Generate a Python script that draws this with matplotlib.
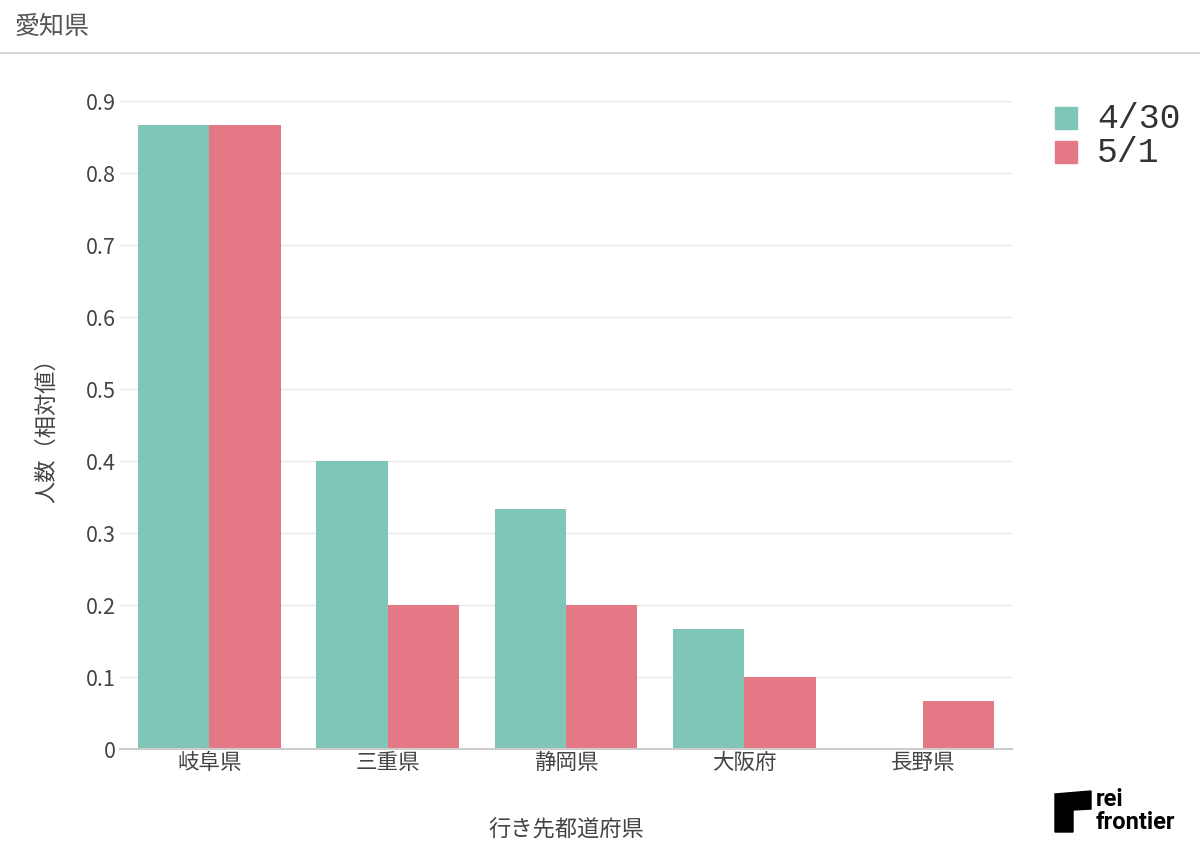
import numpy as np
import matplotlib.pyplot as plt
from matplotlib.patches import Polygon, Rectangle
from matplotlib.lines import Line2D

plt.rcParams['font.family'] = ['Noto Sans CJK JP', 'DejaVu Sans']

prefs = ['岐阜県', '三重県', '静岡県', '大阪府', '長野県']
v_0430 = [0.867, 0.4, 0.333, 0.167, 0.0]
v_0501 = [0.867, 0.2, 0.2, 0.1, 0.0667]
series_names = ['4/30', '5/1']
colors = ['#7fc5b8', '#e57885']
yticks = [0, 0.1, 0.2, 0.3, 0.4, 0.5, 0.6, 0.7, 0.8, 0.9]

fig = plt.figure(figsize=(12, 8.68), dpi=100)
W, H = 1200, 868
ax = fig.add_axes([120 / W, 1 - 749 / H, 892 / W, (749 - 101) / H])

x = np.arange(len(prefs))
bw = 0.4
ax.bar(x - bw / 2, v_0430, bw, color=colors[0], label=series_names[0])
ax.bar(x + bw / 2, v_0501, bw, color=colors[1], label=series_names[1])

ax.set_xlim(-0.5, len(prefs) - 0.5)
ax.set_ylim(0, 0.9)
ax.set_yticks(yticks)
ax.set_yticklabels(['0'] + [f'{t:.1f}' for t in yticks[1:]])
ax.set_xticks(x)
ax.set_xticklabels(prefs)
ax.tick_params(axis='both', length=0, labelsize=15.5, colors='#444444')
ax.tick_params(axis='x', pad=2)
ax.tick_params(axis='y', pad=3)
ax.grid(axis='y', color='#e8e8e8', linewidth=1)
ax.set_axisbelow(True)
for s in ['top', 'right', 'left']:
    ax.spines[s].set_visible(False)
ax.spines['bottom'].set_color('#cccccc')
ax.spines['bottom'].set_linewidth(1.5)

ax.set_ylabel('人数（相対値）', fontsize=16, color='#444444', labelpad=20)
ax.set_xlabel('行き先都道府県', fontsize=16, color='#444444', labelpad=32)

# title and separator
fig.text(15 / W, 1 - 27 / H, '愛知県', fontsize=18, color='#555555', va='center', ha='left')
fig.add_artist(Line2D([0, 1], [1 - 53 / H, 1 - 53 / H], color='#cccccc', linewidth=1.2))

# legend
for i, (name, c) in enumerate(zip(series_names, colors)):
    top = 107 + 34 * i
    fig.add_artist(Rectangle((1055 / W, 1 - (top + 22) / H), 22 / W, 22 / H,
                             transform=fig.transFigure, color=c))
    fig.text(1097 / W, 1 - (top + 11) / H, name, fontsize=25, family='Liberation Mono',
             color='#333333', va='center', ha='left')

# logo
logo = Polygon([[1055 / W, 1 - 794 / H], [1091 / W, 1 - 791 / H], [1091 / W, 1 - 809 / H],
                [1073 / W, 1 - 810 / H], [1073 / W, 1 - 832 / H], [1055 / W, 1 - 832 / H]],
               closed=True, transform=fig.transFigure, color='black')
fig.add_artist(logo)
fig.text(1096 / W, 1 - 811 / H, 'rei\nfrontier', fontsize=17, fontweight='bold', family='Roboto',
         va='center', ha='left', multialignment='left', linespacing=0.95, color='black')

fig.savefig('out.png', dpi=100)
